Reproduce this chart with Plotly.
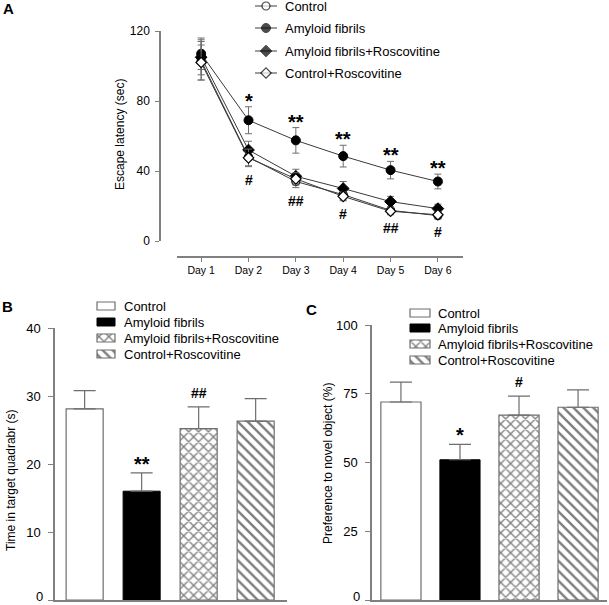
import plotly.graph_objects as go

W, H = 609, 605

# ---------------- data ----------------
days = ["Day 1", "Day 2", "Day 3", "Day 4", "Day 5", "Day 6"]
day_x = [1, 2, 3, 4, 5, 6]

ctrl_lat = [103, 48, 34, 26.5, 17.5, 14.5]
ctrl_err = [11, 5, 3.5, 3, 2, 2]
amy_lat = [107, 69, 57.5, 48.5, 40.5, 34]
amy_err = [9, 7.7, 7.3, 6.2, 5, 4.2]
ar_lat = [105, 52, 37, 30, 22.5, 18.5]
ar_err = [10, 5, 4, 4, 3, 2.5]
cr_lat = [102, 47.5, 35.5, 25.5, 17, 15]
cr_err = [10, 5, 3.5, 2.5, 2, 1.8]

star_labels_A = ["", "*", "**", "**", "**", "**"]
hash_labels_A = ["", "#", "##", "#", "##", "#"]

groups = ["Control", "Amyloid fibrils", "Amyloid fibrils+Roscovitine", "Control+Roscovitine"]
quad_time = [28.1, 16.0, 25.2, 26.3]
quad_err = [2.7, 2.7, 3.2, 3.3]
quad_sig = ["", "**", "##", ""]
quad_ticks = [0, 10, 20, 30, 40]

novel_pref = [72, 51, 67.2, 70.1]
novel_err = [7.2, 5.6, 6.9, 6.3]
novel_sig = ["", "*", "#", ""]
novel_ticks = [0, 25, 50, 75, 100]

latency_ticks = [0, 40, 80, 120]

# ---------------- helpers ----------------
def px_x(p):
    return p / W

def px_y(p):
    return 1 - p / H

FONT = "Liberation Sans, Arial, sans-serif"
AXC = "#808080"
ERRC = "#6e6e6e"
STAR_FONT = dict(family=FONT, size=20, color="black")
HASH_FONT = dict(family=FONT, size=14, color="black")

fig = go.Figure()
annotations = []

# ---------------- Panel A ----------------
markersA = [
    dict(symbol="circle", size=8, color="white", line=dict(color="black", width=1.2)),
    dict(symbol="circle", size=9, color="black", line=dict(color="black", width=1)),
    dict(symbol="diamond", size=9, color="black", line=dict(color="black", width=1)),
    dict(symbol="diamond", size=8, color="white", line=dict(color="black", width=1.2)),
]
seriesA = [(ctrl_lat, ctrl_err), (amy_lat, amy_err), (ar_lat, ar_err), (cr_lat, cr_err)]
for i, (vals, errs) in enumerate(seriesA):
    fig.add_trace(go.Scatter(
        x=day_x, y=vals, name=groups[i], mode="lines+markers",
        line=dict(color="#3a3a3a", width=1),
        marker=markersA[i],
        error_y=dict(type="data", array=errs, color=ERRC, thickness=1, width=3.5),
        xaxis="x", yaxis="y", hoverinfo="skip", showlegend=False,
    ))

for i in range(len(day_x)):
    if star_labels_A[i]:
        annotations.append(dict(x=day_x[i], y=amy_lat[i] + amy_err[i], xref="x", yref="y",
                                text="<b>" + star_labels_A[i] + "</b>", showarrow=False,
                                yanchor="middle", yshift=6, font=STAR_FONT))
    if hash_labels_A[i]:
        low = min(v - e for v, e in zip([ctrl_lat[i], ar_lat[i], cr_lat[i]], [ctrl_err[i], ar_err[i], cr_err[i]]))
        annotations.append(dict(x=day_x[i], y=low, xref="x", yref="y",
                                text="<b>" + hash_labels_A[i] + "</b>", showarrow=False,
                                yanchor="middle", yshift=-13, font=HASH_FONT))

# ---------------- Panels B and C ----------------
bar_styles = [
    dict(color="white", line=dict(color="#6e6e6e", width=1.2)),
    dict(color="black", line=dict(color="black", width=1)),
    dict(color="white", line=dict(color="#6e6e6e", width=1.2),
         pattern=dict(shape="x", size=7, solidity=0.35, fgcolor="black", bgcolor="white")),
    dict(color="white", line=dict(color="#6e6e6e", width=1.2),
         pattern=dict(shape="\\", size=7, solidity=0.35, fgcolor="black", bgcolor="white")),
]

for vals, errs, xa, ya, bw in [
    (quad_time, quad_err, "x2", "y2", 0.65),
    (novel_pref, novel_err, "x3", "y3", 0.68),
]:
    for i in range(len(groups)):
        fig.add_trace(go.Bar(
            x=[i], y=[vals[i]], name=groups[i], width=bw,
            marker=bar_styles[i],
            error_y=dict(type="data", symmetric=False, array=[errs[i]], arrayminus=[0],
                         color=ERRC, thickness=1.2, width=11),
            xaxis=xa, yaxis=ya, hoverinfo="skip", showlegend=False,
        ))

for i in range(len(groups)):
    for sig, vals, errs, xa, ya in [(quad_sig, quad_time, quad_err, "x2", "y2"),
                                    (novel_sig, novel_pref, novel_err, "x3", "y3")]:
        if sig[i]:
            star = "*" in sig[i]
            annotations.append(dict(x=i, y=vals[i] + errs[i], xref=xa, yref=ya,
                                    text="<b>" + sig[i] + "</b>",
                                    showarrow=False, yanchor="middle", yshift=9 if star else 14,
                                    font=STAR_FONT if star else HASH_FONT))

# ---------------- legends (drawn on a pixel-unit overlay) ----------------
legA_rows = [6, 28, 51, 73]
for i in range(4):
    y = legA_rows[i]
    fig.add_trace(go.Scatter(
        x=[255, 266, 277], y=[y, y, y], mode="lines+markers",
        line=dict(color="#3a3a3a", width=1),
        marker=dict(symbol=markersA[i]["symbol"], size=[0, markersA[i]["size"], 0],
                    color=markersA[i]["color"], line=markersA[i]["line"]),
        xaxis="x4", yaxis="y4", hoverinfo="skip", showlegend=False,
    ))
    annotations.append(dict(x=283, y=y, xref="x4", yref="y4", text=groups[i], showarrow=False,
                            xanchor="left", yanchor="middle",
                            font=dict(family=FONT, size=13, color="black")))

legB_rows = [306, 322, 338, 354]
legC_rows = [313, 328, 344, 360]
for rows, bx0, bx1, tx in [(legB_rows, 97, 115, 122), (legC_rows, 410, 430, 436)]:
    for i in range(4):
        y = rows[i]
        fig.add_trace(go.Bar(
            x=[(bx0 + bx1) / 2], y=[8], base=[y - 4], width=[bx1 - bx0],
            marker=bar_styles[i], xaxis="x4", yaxis="y4", hoverinfo="skip", showlegend=False,
        ))
        annotations.append(dict(x=tx, y=y, xref="x4", yref="y4", text=groups[i], showarrow=False,
                                xanchor="left", yanchor="middle",
                                font=dict(family=FONT, size=13, color="black")))

# axis titles
for text, tx, ty in [("Escape latency (sec)", 120, 135),
                     ("Time in target quadrabr (s)", 11, 480),
                     ("Preference to novel object (%)", 328, 464)]:
    annotations.append(dict(x=px_x(tx), y=px_y(ty), xref="paper", yref="paper", text=text,
                            textangle=-90, showarrow=False, xanchor="center", yanchor="middle",
                            font=dict(family=FONT, size=12, color="black")))
for letter, lx, ly in [("A", 8, 9), ("B", 7, 306), ("C", 311, 309)]:
    annotations.append(dict(x=px_x(lx), y=px_y(ly), xref="paper", yref="paper", text="<b>" + letter + "</b>",
                            showarrow=False, xanchor="center", yanchor="middle",
                            font=dict(family=FONT, size=15, color="black")))

tickfont = dict(family=FONT, size=12, color="black")
tickfont2 = dict(family=FONT, size=13, color="black")

# the bottom "0" labels of B and C sit right at the page edge: draw them slightly lifted
for ticks, ya, axis_px in [(quad_ticks, "y2", 55), (novel_ticks, "y3", 372)]:
    annotations.append(dict(x=px_x(axis_px - 10), y=ticks[0], xref="paper", yref=ya,
                            text=str(ticks[0]), showarrow=False, xanchor="right", yanchor="middle",
                            yshift=4, font=tickfont2))

fig.update_layout(
    width=W, height=H,
    margin=dict(l=0, r=0, t=0, b=0, autoexpand=False),
    paper_bgcolor="white", plot_bgcolor="rgba(0,0,0,0)",
    showlegend=False,
    annotations=annotations,
    barmode="overlay",
    xaxis=dict(domain=[px_x(177), px_x(463)], range=[0.49, 6.53], anchor="free", position=px_y(257),
               tickvals=day_x, ticktext=days, showgrid=False, zeroline=False, automargin=False,
               showline=True, linecolor=AXC, linewidth=1.5, ticks="outside", ticklen=4,
               tickcolor=AXC, tickwidth=1.2, tickfont=dict(family=FONT, size=10.5, color="black")),
    yaxis=dict(domain=[px_y(241), px_y(31)], range=[0, 120], anchor="free", position=px_x(160),
               tickvals=latency_ticks, showgrid=False, zeroline=False, automargin=False,
               showline=True, linecolor=AXC, linewidth=1.5, ticks="outside", ticklen=4,
               tickcolor=AXC, tickwidth=1.2, tickfont=tickfont, ticklabelstandoff=3),
    xaxis2=dict(domain=[px_x(55), px_x(287)], range=[-0.52, 3.55], anchor="y2", automargin=False,
                showticklabels=False, ticks="", showgrid=False, zeroline=False,
                showline=True, linecolor=AXC, linewidth=1.5),
    yaxis2=dict(domain=[px_y(600), px_y(328)], range=[0, 40], anchor="x2", automargin=False,
                tickvals=quad_ticks, ticktext=[""] + [str(t) for t in quad_ticks[1:]],
                showgrid=False, zeroline=False,
                showline=True, linecolor=AXC, linewidth=1.5, ticks="outside", ticklen=5,
                tickcolor=AXC, tickwidth=1.2, tickfont=tickfont2, ticklabelstandoff=5),
    xaxis3=dict(domain=[px_x(372), px_x(607)], range=[-0.49, 3.49], anchor="y3", automargin=False,
                showticklabels=False, ticks="", showgrid=False, zeroline=False,
                showline=True, linecolor=AXC, linewidth=1.5),
    yaxis3=dict(domain=[px_y(600), px_y(325)], range=[0, 100], anchor="x3", automargin=False,
                tickvals=novel_ticks, ticktext=[""] + [str(t) for t in novel_ticks[1:]],
                showgrid=False, zeroline=False,
                showline=True, linecolor=AXC, linewidth=1.5, ticks="outside", ticklen=5,
                tickcolor=AXC, tickwidth=1.2, tickfont=tickfont2, ticklabelstandoff=5),
    xaxis4=dict(domain=[0, 1], range=[0, W], anchor="y4", visible=False, fixedrange=True),
    yaxis4=dict(domain=[0, 1], range=[H, 0], anchor="x4", visible=False, fixedrange=True),
)

fig.write_html("out.html", config={"displayModeBar": False},
               post_script="document.body.style.margin='0px';document.body.style.overflow='hidden';")
